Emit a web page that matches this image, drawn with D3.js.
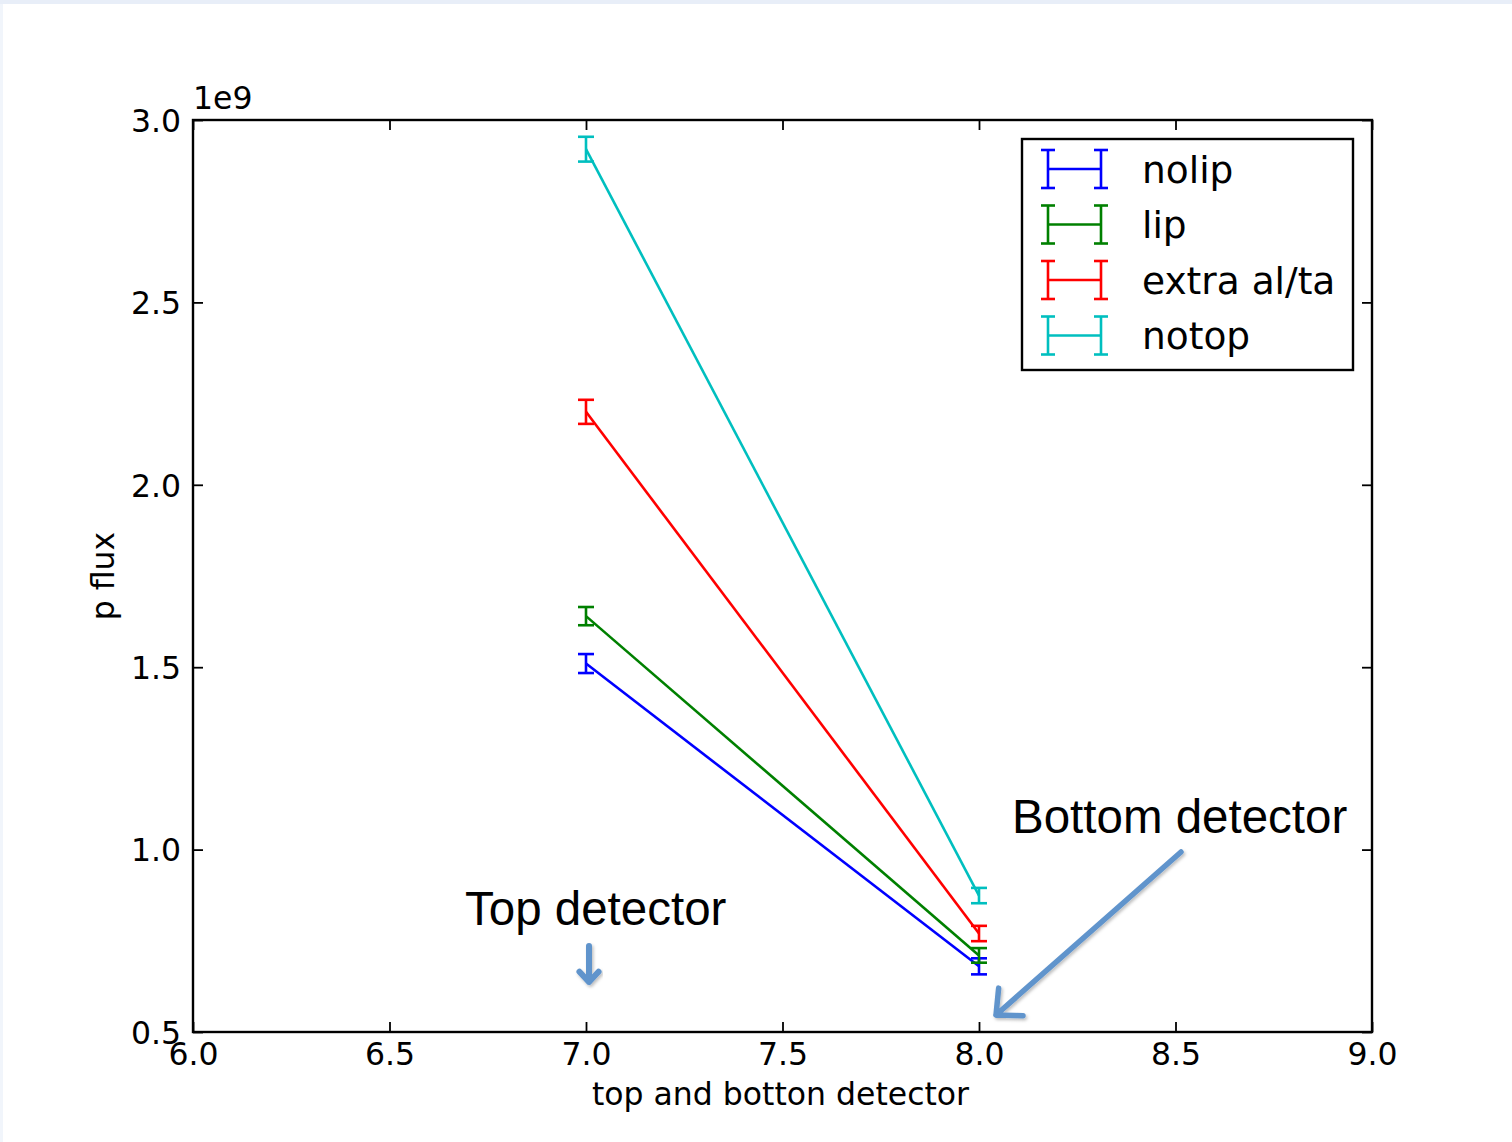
<!DOCTYPE html>
<html><head><meta charset="utf-8">
<script src="https://cdn.jsdelivr.net/npm/d3@7"></script>
<style>
html,body{margin:0;padding:0;background:#fff;}
svg{display:block;}
</style></head>
<body>
<svg id="chart" width="1512" height="1142"></svg>
<script>
// ---- data ----
const xPositions = [7, 8];
const seriesNames = ["nolip", "lip", "extra al/ta", "notop"];
const seriesColors = ["#0000ff", "#008000", "#ff0000", "#00bfbf"];
const nolipValues = [1.51, 0.68];
const nolipErrors = [0.026, 0.022];
const lipValues = [1.64, 0.71];
const lipErrors = [0.025, 0.02];
const extraValues = [2.20, 0.77];
const extraErrors = [0.033, 0.021];
const notopValues = [2.92, 0.874];
const notopErrors = [0.034, 0.021];
const xTicks = [6.0, 6.5, 7.0, 7.5, 8.0, 8.5, 9.0];
const yTicks = [0.5, 1.0, 1.5, 2.0, 2.5, 3.0];
const xLabel = "top and botton detector";
const yLabel = "p flux";
const offsetLabel = "1e9";
const annotations = [
  {text: "Top detector", x: 7.0},
  {text: "Bottom detector", x: 8.0}
];

const series = [
  {name: seriesNames[0], color: seriesColors[0], values: nolipValues, errors: nolipErrors},
  {name: seriesNames[1], color: seriesColors[1], values: lipValues, errors: lipErrors},
  {name: seriesNames[2], color: seriesColors[2], values: extraValues, errors: extraErrors},
  {name: seriesNames[3], color: seriesColors[3], values: notopValues, errors: notopErrors}
];

// ---- layout ----
const svg = d3.select("#chart");
const L = 193, R = 1372, T = 120, B = 1032;
const x = d3.scaleLinear().domain([6, 9]).range([L, R]);
const y = d3.scaleLinear().domain([0.5, 3.0]).range([B, T]);
const font = "'DejaVu Sans', sans-serif";
const LW = 2.6;

// slide edges
svg.append("rect").attr("x",0).attr("y",0).attr("width",1512).attr("height",1142).attr("fill","#fff");
svg.append("rect").attr("x",0).attr("y",0).attr("width",1512).attr("height",4).attr("fill","#e8eef8");
svg.append("rect").attr("x",0).attr("y",4).attr("width",3).attr("height",1138).attr("fill","#f1f5fb");

// data lines
const line = d3.line().x((d,i)=>x(xPositions[i])).y(d=>y(d));
const g = svg.append("g");
series.forEach(s => {
  g.append("path").datum(s.values).attr("d", line)
    .attr("fill","none").attr("stroke", s.color).attr("stroke-width", LW);
  const eb = g.selectAll(null).data(s.values.map((v,i)=>({v, e:s.errors[i], xv:xPositions[i]}))).enter().append("g");
  eb.append("line").attr("x1",d=>x(d.xv)).attr("x2",d=>x(d.xv))
    .attr("y1",d=>y(d.v - d.e)).attr("y2",d=>y(d.v + d.e))
    .attr("stroke", s.color).attr("stroke-width", LW);
  [-1,1].forEach(sgn=>{
    eb.append("line").attr("x1",d=>x(d.xv)-8).attr("x2",d=>x(d.xv)+8)
      .attr("y1",d=>y(d.v + sgn*d.e)).attr("y2",d=>y(d.v + sgn*d.e))
      .attr("stroke", s.color).attr("stroke-width", LW);
  });
});

// axes with inward ticks on all sides
const tickLen = 10;
const axisG = svg.append("g");
const xb = axisG.append("g").attr("transform",`translate(0,${B})`)
  .call(d3.axisBottom(x).tickValues(xTicks).tickSizeInner(-tickLen).tickSizeOuter(0).tickFormat(d3.format(".1f")));
const xt = axisG.append("g").attr("transform",`translate(0,${T})`)
  .call(d3.axisTop(x).tickValues(xTicks).tickSizeInner(-tickLen).tickSizeOuter(0).tickFormat(""));
const yl = axisG.append("g").attr("transform",`translate(${L},0)`)
  .call(d3.axisLeft(y).tickValues(yTicks).tickSizeInner(-tickLen).tickSizeOuter(0).tickFormat(d3.format(".1f")));
const yr = axisG.append("g").attr("transform",`translate(${R},0)`)
  .call(d3.axisRight(y).tickValues(yTicks).tickSizeInner(-tickLen).tickSizeOuter(0).tickFormat(""));
axisG.selectAll(".domain").remove();
axisG.selectAll(".tick line").attr("stroke","#000").attr("stroke-width",1.8);
axisG.selectAll(".tick text").attr("font-family",font).attr("font-size",31.5).attr("fill","#000");
xb.selectAll(".tick text").attr("dy","0.71em").attr("y", 11);
yl.selectAll(".tick text").attr("x",-12).attr("dy","0.36em");

// frame
svg.append("rect").attr("x",L).attr("y",T).attr("width",R-L).attr("height",B-T)
  .attr("fill","none").attr("stroke","#000").attr("stroke-width",2.4);

// offset text
svg.append("text").attr("x",L).attr("y",T-11).attr("font-family",font).attr("font-size",31.5).text(offsetLabel);

// axis labels
svg.append("text").attr("x",(L+R)/2 - 2).attr("y",1105).attr("text-anchor","middle")
  .attr("font-family",font).attr("font-size",31.5).text(xLabel);
svg.append("text").attr("transform",`translate(114,${(T+B)/2}) rotate(-90)`).attr("text-anchor","middle")
  .attr("font-family",font).attr("font-size",31.5).text(yLabel);

// legend
const lg = svg.append("g");
lg.append("rect").attr("x",1022).attr("y",139).attr("width",331).attr("height",231)
  .attr("fill","#fff").attr("stroke","#000").attr("stroke-width",2.4);
series.forEach((s,i)=>{
  const cy = 169 + i*55.5;
  const x0 = 1048, x1 = 1101;
  lg.append("line").attr("x1",x0).attr("x2",x1).attr("y1",cy).attr("y2",cy).attr("stroke",s.color).attr("stroke-width",LW);
  [x0,x1].forEach(xx=>{
    lg.append("line").attr("x1",xx).attr("x2",xx).attr("y1",cy-19).attr("y2",cy+19).attr("stroke",s.color).attr("stroke-width",LW);
    [-19,19].forEach(o=>lg.append("line").attr("x1",xx-7).attr("x2",xx+7).attr("y1",cy+o).attr("y2",cy+o).attr("stroke",s.color).attr("stroke-width",LW));
  });
  lg.append("text").attr("x",1142).attr("y",cy).attr("dy","0.36em").attr("font-family",font).attr("font-size",37.5).attr("fill","#000").text(s.name);
});

// annotations
const aFont = "'Liberation Sans', Arial, sans-serif";
const arrowColor = "#6094cc";
const defs = svg.append("defs");
const flt = defs.append("filter").attr("id","sh").attr("x","-20%").attr("y","-20%").attr("width","140%").attr("height","140%");
flt.append("feDropShadow").attr("dx",1.5).attr("dy",2).attr("stdDeviation",1.5).attr("flood-color","#000").attr("flood-opacity",0.25);

svg.append("text").attr("x",x(annotations[0].x)-121).attr("y",925).attr("font-family",aFont).attr("font-size",47.5).attr("fill","#000").text(annotations[0].text);
svg.append("text").attr("x",x(annotations[1].x)+33).attr("y",833).attr("font-family",aFont).attr("font-size",47.5).attr("fill","#000").text(annotations[1].text);

function arrow(x1,y1,x2,y2,head,w){
  const ang = Math.atan2(y2-y1,x2-x1);
  const a1 = ang + Math.PI - 0.75, a2 = ang + Math.PI + 0.75;
  const p = d3.path();
  p.moveTo(x1,y1); p.lineTo(x2,y2);
  p.moveTo(x2+head*Math.cos(a1), y2+head*Math.sin(a1)); p.lineTo(x2,y2); p.lineTo(x2+head*Math.cos(a2), y2+head*Math.sin(a2));
  svg.append("path").attr("d",p.toString()).attr("fill","none").attr("stroke",arrowColor)
    .attr("stroke-width",w).attr("stroke-linecap","round").attr("stroke-linejoin","round").attr("filter","url(#sh)");
}
const ax7 = x(annotations[0].x) + 3;
arrow(ax7, 946, ax7, 982, 14, 6);
const ax8 = x(annotations[1].x);
arrow(ax8+202, 852, ax8+17, 1015, 27, 5.5);
</script>
</body></html>
